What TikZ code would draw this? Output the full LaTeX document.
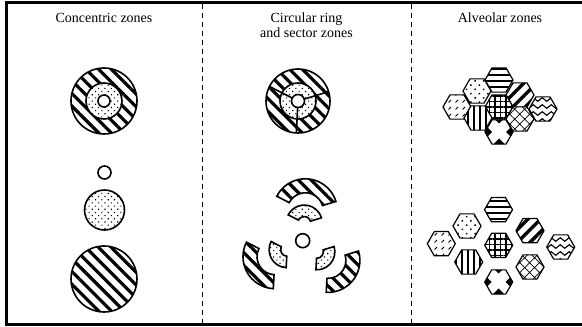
\documentclass[tikz,border=0pt]{standalone}
\usepackage{fontspec}
\setmainfont{Liberation Serif}
\usetikzlibrary{shapes.geometric,patterns,patterns.meta,calc}

\pgfdeclarepatternformonly{wavy}{\pgfpoint{-1pt}{0pt}}{\pgfpoint{10pt}{7pt}}{\pgfpoint{9pt}{7pt}}{%
  \pgfsetlinewidth{1.1pt}
  \pgfpathmoveto{\pgfpoint{0pt}{3.5pt}}
  \pgfpathsine{\pgfpoint{2.25pt}{1.8pt}}
  \pgfpathcosine{\pgfpoint{2.25pt}{-1.8pt}}
  \pgfpathsine{\pgfpoint{2.25pt}{-1.8pt}}
  \pgfpathcosine{\pgfpoint{2.25pt}{1.8pt}}
  \pgfusepath{stroke}}
\pgfdeclarepatternformonly{dashdiag}{\pgfpoint{-1pt}{-1pt}}{\pgfpoint{8pt}{8pt}}{\pgfpoint{7pt}{7pt}}{%
  \pgfsetlinewidth{0.8pt}
  \pgfpathmoveto{\pgfpoint{0.5pt}{0.5pt}}
  \pgfpathlineto{\pgfpoint{3pt}{3pt}}
  \pgfusepath{stroke}}

\begin{document}
\begin{tikzpicture}[x=1pt,y=1pt]

\tikzset{title/.style = {font=\fontsize{14}{15}\selectfont, align=center}}
\tikzset{rim/.style = {line width=1.6}}
\tikzset{stripes/.style = {pattern={Lines[angle=-45,distance=9pt,line width=3.2pt]}}}
\tikzset{speckle/.style = {pattern={Dots[distance=4.5pt,radius=0.8pt,angle=45]}}}
\tikzset{hex/.style = {regular polygon, regular polygon sides=6, minimum size=28pt,
  inner sep=0pt, draw, line width=1.2, preaction={fill=white}}}
\tikzset{hstripes/.style = {pattern={Lines[angle=0,distance=6pt,line width=2.6pt]}}}
\tikzset{vstripes/.style = {pattern={Lines[angle=90,distance=6pt,line width=2.6pt]}}}
\tikzset{spots/.style = {pattern={Dots[distance=6pt,radius=1pt,angle=45]}}}
\tikzset{bands/.style = {pattern={Lines[angle=45,distance=9pt,line width=3.5pt]}}}
\tikzset{slashes/.style = {pattern=dashdiag}}
\tikzset{mesh/.style = {pattern={Hatch[distance=5.5pt,line width=1.1pt]}}}
\tikzset{waves/.style = {pattern=wavy}}
\tikzset{net/.style = {pattern={Hatch[angle=45,distance=7pt,line width=0.7pt]}}}
\tikzset{diamonds/.style = {path picture={
  \foreach \dx/\dy in {-12.5/0,12.5/0,0/-12,0/14}
    \fill ($(path picture bounding box.center)+(\dx,\dy)$)
      +(-5.5,0) -- +(0,5.5) -- +(5.5,0) -- +(0,-5.5) -- cycle;}}}

\useasboundingbox (0,0) rectangle (582,327);

% frame
\draw[line width=2.6] (590,324.3) -- (6.5,324.3) -- (6.5,2.5) -- (590,2.5);
\draw[dash pattern=on 5 off 4, line width=1] (202,323) -- (202,3);
\draw[dash pattern=on 5 off 4, line width=1] (411,323) -- (411,3);

% titles
\node[title] (t1) at (104,309) {Concentric zones};
\node[title] (t2) at (306.5,301.5) {Circular ring\\and sector zones};
\node[title] (t3) at (500,309) {Alveolar zones};

% concentric zones
\coordinate (c1) at (104,226);
\path[stripes, even odd rule] (c1) circle (33) (c1) circle (18);
\path[speckle, even odd rule] (c1) circle (18) (c1) circle (6);
\draw[rim] (c1) circle (33) (c1) circle (18) (c1) circle (6);

\draw[rim] (104.5,154.5) circle (6.5);
\draw[rim, speckle] (104.5,117) circle (20);
\draw[rim, stripes] (104,48) circle (33);

% ring and sector zones
\coordinate (c2) at (298,226);
\path[stripes, even odd rule] (c2) circle (32) (c2) circle (18);
\path[speckle, even odd rule] (c2) circle (18) (c2) circle (6.5);
\draw[rim] (c2) circle (32) (c2) circle (18) (c2) circle (6.5);
\foreach \a in {153,17,267}
  \draw[rim] ([shift={(\a:6.5)}]c2) -- ([shift={(\a:32)}]c2);

\coordinate (c3) at (302.7,86.3);
\draw[rim] (c3) circle (7);
\foreach \a/\b/\d in {17/153/30, 153/267/32, 267/377/32}{
  \pgfmathsetmacro\m{(\a+\b)/2}
  \draw[rim, stripes] ($(c3)+(\m:\d)+(\a:18)$) arc[start angle=\a, end angle=\b, radius=18]
    -- ($(c3)+(\m:\d)+(\b:32)$) arc[start angle=\b, end angle=\a, radius=32] -- cycle;
}
\foreach \a/\b/\d in {17/153/17.7, 153/267/18, 267/377/18}{
  \pgfmathsetmacro\m{(\a+\b)/2}
  \draw[rim, speckle] ($(c3)+(\m:\d)+(\a:6.5)$) arc[start angle=\a, end angle=\b, radius=6.5]
    -- ($(c3)+(\m:\d)+(\b:18)$) arc[start angle=\b, end angle=\a, radius=18] -- cycle;
}

% alveolar zones, packed
\node[hex, hstripes] (a1) at (499,247) {};
\node[hex, spots]    (a2) at (477,236) {};
\node[hex, bands]    (a3) at (520,232) {};
\node[hex, slashes]  (a4) at (457,220) {};
\node[hex, mesh]     (a5) at (499,220) {};
\node[hex, waves]    (a6) at (543,218) {};
\node[hex, vstripes] (a7) at (478,209) {};
\node[hex, net]      (a8) at (520,208) {};
\node[hex, diamonds] (a9) at (499,195) {};

% alveolar zones, apart
\node[hex, hstripes] (b1) at (498.5,117.3) {};
\node[hex, spots]    (b2) at (467,101) {};
\node[hex, bands]    (b3) at (530,96.3) {};
\node[hex, slashes]  (b4) at (441.3,83.3) {};
\node[hex, mesh]     (b5) at (498.7,81.7) {};
\node[hex, waves]    (b6) at (560.7,80) {};
\node[hex, vstripes] (b7) at (468.7,65) {};
\node[hex, net]      (b8) at (530,60) {};
\node[hex, diamonds] (b9) at (498.7,45) {};

\end{tikzpicture}
\end{document}
